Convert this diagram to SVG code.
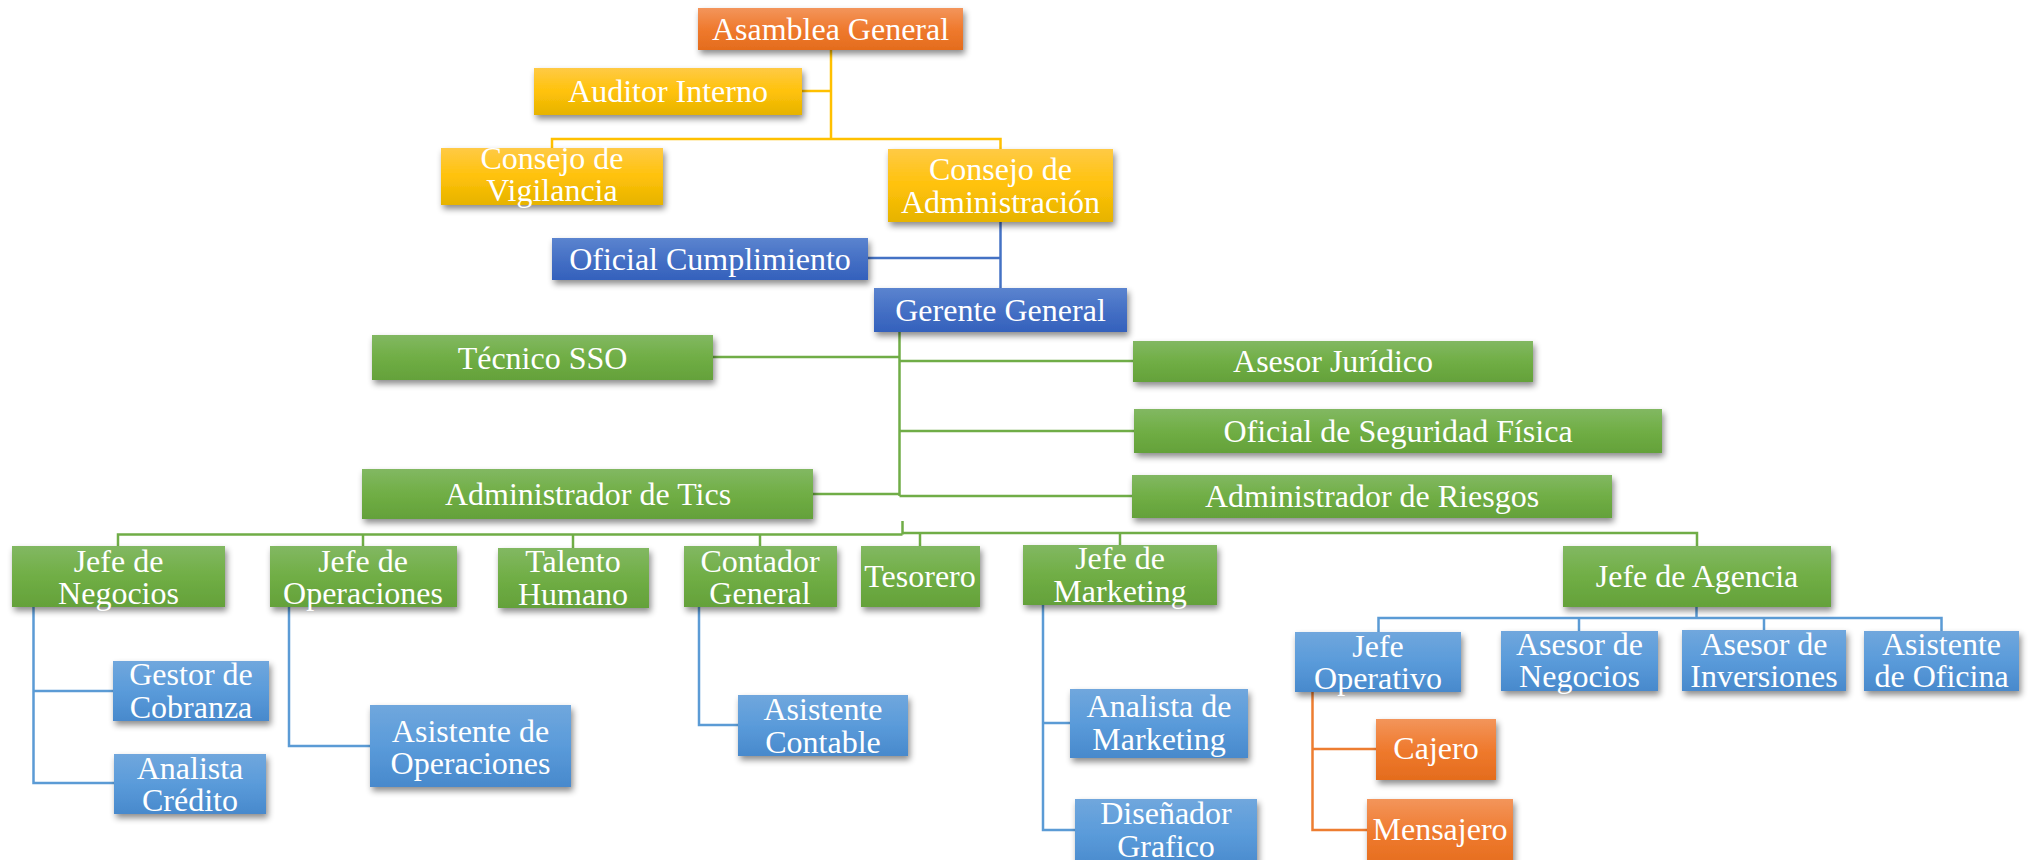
<svg xmlns="http://www.w3.org/2000/svg" width="2034" height="860" viewBox="0 0 2034 860">
<defs>
<linearGradient id="gO" x1="0" y1="0" x2="0" y2="1"><stop offset="0" stop-color="#F3955B"/><stop offset="0.5" stop-color="#EF7A2E"/><stop offset="1" stop-color="#E46C1D"/></linearGradient>
<linearGradient id="gY" x1="0" y1="0" x2="0" y2="1"><stop offset="0" stop-color="#FFCA45"/><stop offset="0.5" stop-color="#FFC20A"/><stop offset="1" stop-color="#E6B300"/></linearGradient>
<linearGradient id="gD" x1="0" y1="0" x2="0" y2="1"><stop offset="0" stop-color="#5B84CF"/><stop offset="0.5" stop-color="#4570C5"/><stop offset="1" stop-color="#3461BC"/></linearGradient>
<linearGradient id="gG" x1="0" y1="0" x2="0" y2="1"><stop offset="0" stop-color="#82B862"/><stop offset="0.5" stop-color="#70AE45"/><stop offset="1" stop-color="#64A13A"/></linearGradient>
<linearGradient id="gB" x1="0" y1="0" x2="0" y2="1"><stop offset="0" stop-color="#70A7DD"/><stop offset="0.5" stop-color="#5A9BDA"/><stop offset="1" stop-color="#4889CC"/></linearGradient>
<filter id="sh" x="-10%" y="-20%" width="120%" height="150%"><feDropShadow dx="2" dy="4" stdDeviation="3" flood-color="#000" flood-opacity="0.45"/></filter>
</defs>
<style>
.n rect{filter:url(#sh)}
.o{fill:url(#gO)} .y{fill:url(#gY)} .d{fill:url(#gD)} .g{fill:url(#gG)} .b{fill:url(#gB)}
text{font-family:"Liberation Serif","Times New Roman",serif;font-size:32px;fill:#fff;text-anchor:middle}
.c path{fill:none;stroke-width:2.5}
.cy path{stroke:#FFC000} .cd path{stroke:#4472C4} .cg path{stroke:#70AD47} .cb path{stroke:#5B9BD5} .co path{stroke:#ED7D31}
</style>
<g id="connectors" class="c">
<g class="cy"><path d="M831 50V140"/><path d="M802 91H831"/><path d="M552 148V139H1000.5V149"/></g>
<g class="cd"><path d="M1000.5 222V288"/><path d="M868 258H1000.5"/></g>
<g class="cg"><path d="M899.5 332V496"/><path d="M713 357H899.5"/><path d="M899.5 361H1133"/><path d="M899.5 431H1134"/><path d="M813 494H899.5"/><path d="M899.5 496H1132"/>
<path d="M902.5 521V534.5"/><path d="M118 546V534.5H902.5"/><path d="M902.5 533H1697V546"/><path d="M363 546V534.5"/><path d="M573 548V534.5"/><path d="M760 546V534.5"/><path d="M920 546V533"/><path d="M1120 545V533"/></g>
<g class="cb"><path d="M33.5 607V783H114"/><path d="M33.5 691H113"/><path d="M289 607V746H370"/><path d="M699 607V725H738"/><path d="M1043 605V830H1075"/><path d="M1043 723H1070"/>
<path d="M1696.5 607V618"/><path d="M1378.5 632V618H1941.5V631"/><path d="M1579 631V618"/><path d="M1764 630V618"/></g>
<g class="co"><path d="M1312.5 692V830H1367"/><path d="M1312.5 749H1376"/></g>
</g>
<g id="asamblea" class="n"><rect class="o" x="698" y="8" width="265" height="42"/><text x="830.5" y="40">Asamblea General</text></g>
<g id="auditor" class="n"><rect class="y" x="534" y="68" width="268" height="47"/><text x="668" y="102">Auditor Interno</text></g>
<g id="vigilancia" class="n"><rect class="y" x="441" y="148" width="222" height="57"/><text x="552" y="169">Consejo de</text><text x="552" y="201">Vigilancia</text></g>
<g id="administracion" class="n"><rect class="y" x="888" y="149" width="225" height="73"/><text x="1000.5" y="180">Consejo de</text><text x="1000.5" y="213">Administración</text></g>
<g id="cumplimiento" class="n"><rect class="d" x="552" y="238" width="316" height="42"/><text x="710" y="270">Oficial Cumplimiento</text></g>
<g id="gerente" class="n"><rect class="d" x="874" y="288" width="253" height="44"/><text x="1000.5" y="321">Gerente General</text></g>
<g id="sso" class="n"><rect class="g" x="372" y="335" width="341" height="45"/><text x="542.5" y="369">Técnico SSO</text></g>
<g id="juridico" class="n"><rect class="g" x="1133" y="341" width="400" height="41"/><text x="1333" y="372">Asesor Jurídico</text></g>
<g id="seguridad" class="n"><rect class="g" x="1134" y="409" width="528" height="44"/><text x="1398" y="442">Oficial de Seguridad Física</text></g>
<g id="tics" class="n"><rect class="g" x="362" y="469" width="451" height="50"/><text x="588" y="505">Administrador de Tics</text></g>
<g id="riesgos" class="n"><rect class="g" x="1132" y="475" width="480" height="43"/><text x="1372" y="507">Administrador de Riesgos</text></g>
<g id="jnegocios" class="n"><rect class="g" x="12" y="546" width="213" height="61"/><text x="118.5" y="572">Jefe de</text><text x="118.5" y="604">Negocios</text></g>
<g id="joperaciones" class="n"><rect class="g" x="270" y="546" width="187" height="61"/><text x="363" y="572">Jefe de</text><text x="363" y="604">Operaciones</text></g>
<g id="talento" class="n"><rect class="g" x="498" y="548" width="151" height="60"/><text x="573" y="572">Talento</text><text x="573" y="605">Humano</text></g>
<g id="contador" class="n"><rect class="g" x="684" y="546" width="153" height="61"/><text x="760" y="572">Contador</text><text x="760" y="604">General</text></g>
<g id="tesorero" class="n"><rect class="g" x="861" y="546" width="119" height="61"/><text x="920" y="587">Tesorero</text></g>
<g id="jmarketing" class="n"><rect class="g" x="1023" y="545" width="194" height="60"/><text x="1120" y="569">Jefe de</text><text x="1120" y="602">Marketing</text></g>
<g id="jagencia" class="n"><rect class="g" x="1563" y="546" width="268" height="61"/><text x="1697" y="587">Jefe de Agencia</text></g>
<g id="gestor" class="n"><rect class="b" x="113" y="661" width="156" height="60"/><text x="191" y="685">Gestor de</text><text x="191" y="718">Cobranza</text></g>
<g id="analista" class="n"><rect class="b" x="114" y="754" width="152" height="60"/><text x="190" y="779">Analista</text><text x="190" y="811">Crédito</text></g>
<g id="asisoper" class="n"><rect class="b" x="370" y="705" width="201" height="82"/><text x="470.5" y="742">Asistente de</text><text x="470.5" y="774">Operaciones</text></g>
<g id="asiscont" class="n"><rect class="b" x="738" y="695" width="170" height="61"/><text x="823" y="720">Asistente</text><text x="823" y="753">Contable</text></g>
<g id="anmarketing" class="n"><rect class="b" x="1070" y="689" width="178" height="69"/><text x="1159" y="717">Analista de</text><text x="1159" y="750">Marketing</text></g>
<g id="disenador" class="n"><rect class="b" x="1075" y="799" width="182" height="70"/><text x="1166" y="824">Diseñador</text><text x="1166" y="857">Grafico</text></g>
<g id="joperativo" class="n"><rect class="b" x="1295" y="632" width="166" height="60"/><text x="1378" y="657">Jefe</text><text x="1378" y="689">Operativo</text></g>
<g id="asnegocios" class="n"><rect class="b" x="1501" y="631" width="157" height="60"/><text x="1579.5" y="655">Asesor de</text><text x="1579.5" y="687">Negocios</text></g>
<g id="asinversiones" class="n"><rect class="b" x="1682" y="630" width="164" height="61"/><text x="1764" y="655">Asesor de</text><text x="1764" y="687">Inversiones</text></g>
<g id="asoficina" class="n"><rect class="b" x="1864" y="631" width="155" height="60"/><text x="1941.5" y="655">Asistente</text><text x="1941.5" y="687">de Oficina</text></g>
<g id="cajero" class="n"><rect class="o" x="1376" y="719" width="120" height="61"/><text x="1436" y="759">Cajero</text></g>
<g id="mensajero" class="n"><rect class="o" x="1367" y="799" width="146" height="70"/><text x="1440" y="840">Mensajero</text></g>
</svg>
